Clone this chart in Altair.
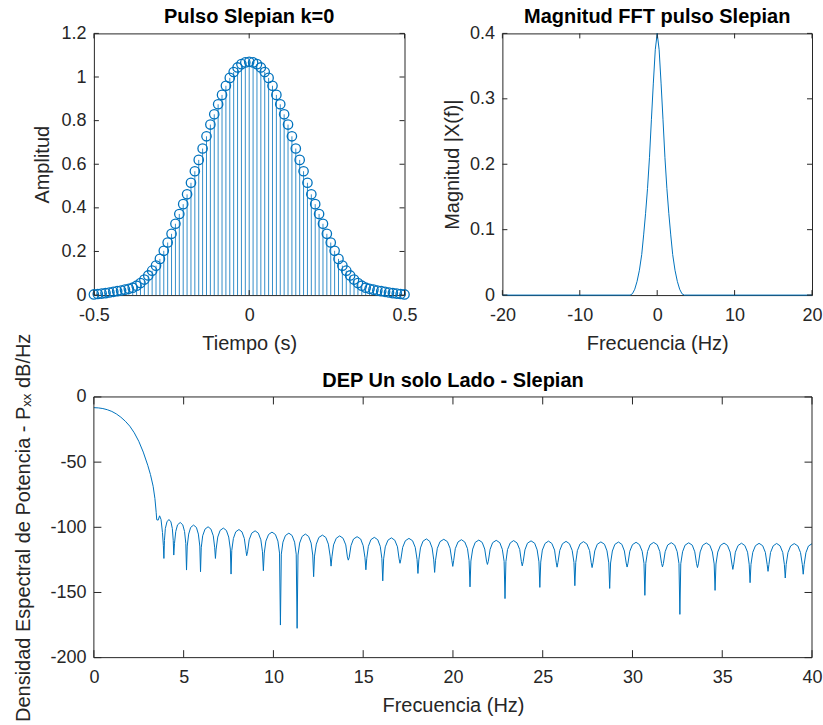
import altair as alt
import pandas as pd

# ----------------------------- data -----------------------------
pulse_t = [
    -0.5, -0.4875, -0.475, -0.4625, -0.45, -0.4375, -0.425, -0.4125, -0.4, -0.3875,
    -0.375, -0.3625, -0.35, -0.3375, -0.325, -0.3125, -0.3, -0.2875, -0.275, -0.2625,
    -0.25, -0.2375, -0.225, -0.2125, -0.2, -0.1875, -0.175, -0.1625, -0.15, -0.1375,
    -0.125, -0.1125, -0.1, -0.0875, -0.075, -0.0625, -0.05, -0.0375, -0.025, -0.0125,
    0,
    0.0125, 0.025, 0.0375, 0.05, 0.0625, 0.075, 0.0875, 0.1, 0.1125, 0.125,
    0.1375, 0.15, 0.1625, 0.175, 0.1875, 0.2, 0.2125, 0.225, 0.2375, 0.25,
    0.2625, 0.275, 0.2875, 0.3, 0.3125, 0.325, 0.3375, 0.35, 0.3625, 0.375,
    0.3875, 0.4, 0.4125, 0.425, 0.4375, 0.45, 0.4625, 0.475, 0.4875, 0.5,
]
pulse_amp = [
    0.003, 0.005, 0.007, 0.009, 0.012, 0.015, 0.018, 0.021, 0.025, 0.029,
    0.034, 0.043, 0.055, 0.071, 0.090, 0.112, 0.135, 0.166, 0.203, 0.241,
    0.281, 0.327, 0.372, 0.417, 0.462, 0.515, 0.568, 0.620, 0.672, 0.728,
    0.782, 0.829, 0.875, 0.918, 0.960, 0.996, 1.023, 1.044, 1.059, 1.067,
    1.070,
    1.067, 1.059, 1.044, 1.023, 0.996, 0.960, 0.918, 0.875, 0.829, 0.782,
    0.728, 0.672, 0.620, 0.568, 0.515, 0.462, 0.417, 0.372, 0.327, 0.281,
    0.241, 0.203, 0.166, 0.135, 0.112, 0.090, 0.071, 0.055, 0.043, 0.034,
    0.029, 0.025, 0.021, 0.018, 0.015, 0.012, 0.009, 0.007, 0.005, 0.003,
]

fft_freq = [-20, -3.5, -3.2, -2.9, -2.6, -2.3, -2.0, -1.75, -1.5, -1.25, -1.0, -0.75,
            -0.5, -0.25, 0, 0.25, 0.5, 0.75, 1.0, 1.25, 1.5, 1.75, 2.0, 2.3, 2.6,
            2.9, 3.2, 3.5, 20]
fft_mag = [0, 0, 0.002, 0.009, 0.021, 0.038, 0.062, 0.092, 0.125, 0.163, 0.210, 0.268,
           0.324, 0.375, 0.400, 0.375, 0.324, 0.268, 0.210, 0.163, 0.125, 0.092, 0.062,
           0.038, 0.021, 0.009, 0.002, 0, 0]

psd_freq = [
    0, 0.25, 0.5, 0.75, 1.0, 1.25, 1.5, 1.75, 2.0, 2.25, 2.5, 2.75, 3.0, 3.15, 3.3,
    3.4, 3.47, 3.5, 3.58, 3.66, 3.74, 3.82, 3.87,
    3.90, 3.93, 3.98, 4.07, 4.18, 4.29, 4.37, 4.42,
    4.45, 4.49, 4.56, 4.66, 4.81, 4.95, 5.05, 5.12,
    5.16, 5.20, 5.28, 5.39, 5.55, 5.71, 5.82, 5.90,
    5.94, 5.98, 6.06, 6.19, 6.36, 6.52, 6.65, 6.73,
    6.77, 6.81, 6.90, 7.03, 7.21, 7.38, 7.51, 7.60,
    7.64, 7.68, 7.77, 7.90, 8.08, 8.25, 8.38, 8.47,
    8.51, 8.56, 8.65, 8.79, 8.98, 9.16, 9.30, 9.39,
    9.44, 9.49, 9.58, 9.73, 9.92, 10.11, 10.25, 10.34,
    10.39, 10.44, 10.53, 10.67, 10.86, 11.04, 11.18, 11.27,
    11.32, 11.37, 11.46, 11.60, 11.78, 11.96, 12.10, 12.19,
    12.24, 12.29, 12.39, 12.53, 12.73, 12.92, 13.06, 13.16,
    13.21, 13.26, 13.35, 13.50, 13.69, 13.88, 14.03, 14.12,
    14.17, 14.22, 14.32, 14.46, 14.66, 14.86, 15.00, 15.10,
    15.15, 15.20, 15.29, 15.43, 15.62, 15.81, 15.95, 16.04,
    16.09, 16.14, 16.23, 16.38, 16.57, 16.76, 16.91, 17.00,
    17.05, 17.10, 17.20, 17.35, 17.55, 17.75, 17.90, 18.00,
    18.05, 18.10, 18.19, 18.33, 18.52, 18.70, 18.84, 18.93,
    18.98, 19.03, 19.13, 19.28, 19.49, 19.69, 19.84, 19.94,
    19.99, 20.04, 20.13, 20.28, 20.47, 20.66, 20.81, 20.90,
    20.95, 21.00, 21.10, 21.24, 21.44, 21.63, 21.77, 21.87,
    21.92, 21.97, 22.07, 22.21, 22.41, 22.61, 22.75, 22.85,
    22.90, 22.95, 23.04, 23.19, 23.38, 23.57, 23.72, 23.81,
    23.86, 23.91, 24.01, 24.15, 24.35, 24.55, 24.69, 24.79,
    24.84, 24.89, 24.98, 25.13, 25.32, 25.51, 25.66, 25.75,
    25.80, 25.85, 25.95, 26.10, 26.30, 26.49, 26.64, 26.74,
    26.79, 26.84, 26.93, 27.08, 27.27, 27.46, 27.61, 27.70,
    27.75, 27.80, 27.90, 28.04, 28.24, 28.44, 28.58, 28.68,
    28.73, 28.78, 28.88, 29.02, 29.22, 29.41, 29.55, 29.65,
    29.70, 29.75, 29.85, 30.00, 30.20, 30.39, 30.54, 30.64,
    30.69, 30.74, 30.84, 30.98, 31.18, 31.38, 31.52, 31.62,
    31.67, 31.72, 31.82, 31.96, 32.16, 32.35, 32.49, 32.59,
    32.64, 32.69, 32.79, 32.93, 33.13, 33.33, 33.47, 33.57,
    33.62, 33.67, 33.77, 33.91, 34.11, 34.31, 34.45, 34.55,
    34.60, 34.65, 34.75, 34.90, 35.10, 35.29, 35.44, 35.54,
    35.59, 35.64, 35.73, 35.88, 36.07, 36.26, 36.41, 36.50,
    36.55, 36.60, 36.70, 36.85, 37.05, 37.25, 37.40, 37.50,
    37.55, 37.60, 37.69, 37.84, 38.03, 38.22, 38.37, 38.46,
    38.51, 38.56, 38.66, 38.81, 39.01, 39.21, 39.36, 39.46,
    39.51, 39.56, 39.66, 39.80, 40.00,
]
psd_db = [
    -8.2, -8.4, -8.9, -9.8, -11.1, -13.0, -15.5, -18.6, -22.4, -27.5, -34.0, -42.3, -52.4, -59.5, -68.5,
    -78.0, -88.5, -94.2, -94.5, -91.2, -94.0, -104.0, -114.0,
    -123.9, -110.1, -100.9, -95.8, -94.0, -95.8, -100.9, -110.1,
    -121.3, -112.4, -103.2, -98.1, -96.3, -98.1, -103.2, -112.4,
    -132.8, -114.4, -105.2, -100.1, -98.3, -100.1, -105.2, -114.4,
    -134.1, -115.7, -106.5, -101.4, -99.6, -101.4, -106.5, -115.7,
    -123.9, -116.7, -107.5, -102.4, -100.6, -102.4, -107.5, -116.7,
    -135.9, -117.8, -108.6, -103.5, -101.7, -103.5, -108.6, -117.8,
    -121.8, -118.8, -109.6, -104.5, -102.7, -104.5, -109.6, -118.8,
    -133.3, -119.8, -110.6, -105.5, -103.7, -105.5, -110.6, -119.8,
    -175.0, -120.6, -111.4, -106.3, -104.5, -106.3, -111.4, -120.6,
    -177.5, -121.3, -112.1, -107.0, -105.2, -107.0, -112.1, -121.3,
    -137.9, -122.1, -112.9, -107.8, -106.0, -107.8, -112.9, -122.1,
    -129.8, -122.7, -113.5, -108.4, -106.6, -108.4, -113.5, -122.7,
    -125.2, -123.3, -114.1, -109.0, -107.2, -109.0, -114.1, -123.3,
    -132.6, -123.8, -114.6, -109.5, -107.7, -109.5, -114.6, -123.8,
    -141.1, -124.2, -115.0, -109.9, -108.1, -109.9, -115.0, -124.2,
    -127.6, -124.6, -115.4, -110.3, -108.5, -110.3, -115.4, -124.6,
    -135.4, -125.0, -115.8, -110.7, -108.9, -110.7, -115.8, -125.0,
    -134.6, -125.3, -116.1, -111.0, -109.2, -111.0, -116.1, -125.3,
    -130.0, -125.6, -116.4, -111.3, -109.5, -111.3, -116.4, -125.6,
    -145.7, -125.9, -116.7, -111.6, -109.8, -111.6, -116.7, -125.9,
    -128.5, -126.1, -116.9, -111.8, -110.0, -111.8, -116.9, -126.1,
    -154.7, -126.3, -117.1, -112.0, -110.2, -112.0, -117.1, -126.3,
    -129.6, -126.5, -117.3, -112.2, -110.4, -112.2, -117.3, -126.5,
    -146.1, -126.7, -117.5, -112.4, -110.6, -112.4, -117.5, -126.7,
    -130.6, -126.9, -117.7, -112.6, -110.8, -112.6, -117.7, -126.9,
    -144.8, -127.1, -117.9, -112.8, -111.0, -112.8, -117.9, -127.1,
    -130.9, -127.3, -118.1, -113.0, -111.2, -113.0, -118.1, -127.3,
    -146.9, -127.4, -118.2, -113.1, -111.3, -113.1, -118.2, -127.4,
    -130.5, -127.6, -118.4, -113.3, -111.5, -113.3, -118.4, -127.6,
    -152.2, -127.7, -118.5, -113.4, -111.6, -113.4, -118.5, -127.7,
    -130.4, -127.9, -118.7, -113.6, -111.8, -113.6, -118.7, -127.9,
    -166.8, -128.0, -118.8, -113.7, -111.9, -113.7, -118.8, -128.0,
    -130.9, -128.1, -118.9, -113.8, -112.0, -113.8, -118.9, -128.1,
    -148.4, -128.2, -119.0, -113.9, -112.1, -113.9, -119.0, -128.2,
    -132.3, -128.3, -119.1, -114.0, -112.2, -114.0, -119.1, -128.3,
    -142.5, -128.4, -119.2, -114.1, -112.3, -114.1, -119.2, -128.4,
    -133.8, -128.5, -119.3, -114.2, -112.4, -114.2, -119.3, -128.5,
    -138.9, -128.6, -119.4, -114.3, -112.5, -114.3, -119.4, -128.6,
    -136.0, -128.7, -119.5, -114.4, -112.6,
]
assert len(psd_freq) == len(psd_db)
assert len(pulse_t) == len(pulse_amp)
assert len(fft_freq) == len(fft_mag)

tl_xticks = [-0.5, 0, 0.5]
tl_yticks = [0, 0.2, 0.4, 0.6, 0.8, 1, 1.2]
tr_xticks = [-20, -10, 0, 10, 20]
tr_yticks = [0, 0.1, 0.2, 0.3, 0.4]
b_xticks = [0, 5, 10, 15, 20, 25, 30, 35, 40]
b_yticks = [-200, -150, -100, -50, 0]

tl_title = "Pulso Slepian k=0"
tr_title = "Magnitud FFT pulso Slepian"
b_title = "DEP Un solo Lado - Slepian"
tl_xlabel, tl_ylabel = "Tiempo (s)", "Amplitud"
tr_xlabel, tr_ylabel = "Frecuencia (Hz)", "Magnitud |X(f)|"
b_xlabel, b_ylabel = "Frecuencia (Hz)", "Densidad Espectral de Potencia - P\u2093\u2093 dB/Hz"

# ---------------------------- styles ----------------------------
FONT = "Liberation Sans"
BLUE = "#0072BD"
AXC = "#262626"

W1, H1 = 311, 262
W2, H2 = 310, 262
W3, H3 = 719, 261     # drawn size of the bottom panel
W3_SLOT = 311         # layout slot width of the bottom panel (it overflows to the right)


def x_axis(values, title, width):
    return alt.Axis(values=values, title=title, grid=False, domain=False, ticks=False, tickSize=0,
                    labelExpr="'' + datum.value", labelFlush=False, labelOverlap=False,
                    labelFontSize=18, labelColor=AXC, labelPadding=11, labelFont=FONT,
                    titleFontSize=20, titleFontWeight="normal", titleColor=AXC, titleFont=FONT,
                    titleBaseline="alphabetic", titleX=width / 2, titleY=54)


def y_axis(values, title, height, tx):
    return alt.Axis(values=values, title=title, grid=False, domain=False, ticks=False, tickSize=0,
                    labelExpr="'' + datum.value", labelOverlap=False,
                    labelFontSize=18, labelColor=AXC, labelPadding=8, labelFont=FONT,
                    titleFontSize=20, titleFontWeight="normal", titleColor=AXC, titleFont=FONT,
                    titleBaseline="alphabetic", titleX=tx, titleY=height / 2)


def inner_ticks(xvals, yvals, xs, ys, xa, ya, w, h, L):
    xd = pd.DataFrame({"tv": xvals})
    yd = pd.DataFrame({"tv": yvals})
    bx = alt.Chart(xd).mark_rule(color=AXC, strokeWidth=1)
    by = alt.Chart(yd).mark_rule(color=AXC, strokeWidth=1)
    return [
        bx.encode(x=alt.X("tv:Q", scale=xs, axis=xa), y=alt.value(h), y2=alt.value(h - L)),
        bx.encode(x=alt.X("tv:Q", scale=xs, axis=xa), y=alt.value(0), y2=alt.value(L)),
        by.encode(y=alt.Y("tv:Q", scale=ys, axis=ya), x=alt.value(0), x2=alt.value(L)),
        by.encode(y=alt.Y("tv:Q", scale=ys, axis=ya), x=alt.value(w), x2=alt.value(w - L)),
    ]


def box(w, h):
    one = pd.DataFrame({"k": [0]})
    r = alt.Chart(one).mark_rule(color=AXC, strokeWidth=1)
    return [
        r.encode(x=alt.value(0), x2=alt.value(w), y=alt.value(0), y2=alt.value(0)),
        r.encode(x=alt.value(0), x2=alt.value(w), y=alt.value(h), y2=alt.value(h)),
        r.encode(x=alt.value(0), x2=alt.value(0), y=alt.value(0), y2=alt.value(h)),
        r.encode(x=alt.value(w), x2=alt.value(w), y=alt.value(0), y2=alt.value(h)),
    ]


def layout_guide(x, y1, y2):
    # invisible rule fixing the outer extent used by the automatic padding
    return alt.Chart(pd.DataFrame({"k": [0]})).mark_rule(color="white", strokeWidth=0.5, opacity=0).encode(
        x=alt.value(x), x2=alt.value(x), y=alt.value(y1), y2=alt.value(y2))


def title_text(text, w):
    return alt.Chart(pd.DataFrame({"txt": [text]})).mark_text(
        font=FONT, fontSize=20, fontWeight="bold", color="black", align="center", baseline="alphabetic"
    ).encode(x=alt.value(w / 2), y=alt.value(-10), text="txt:N")


# --------------------------- top-left ---------------------------
pulse_df = pd.DataFrame({"t": pulse_t, "a": pulse_amp})
xs1 = alt.Scale(domain=[-0.5, 0.5], nice=False, zero=False)
ys1 = alt.Scale(domain=[0, 1.2], nice=False, zero=False)
xa1 = x_axis(tl_xticks, tl_xlabel, W1)
ya1 = y_axis(tl_yticks, tl_ylabel, H1, -45.5)
stems = alt.Chart(pulse_df).mark_rule(color=BLUE, strokeWidth=0.8).encode(
    x=alt.X("t:Q", scale=xs1, axis=xa1),
    y=alt.Y("a:Q", scale=ys1, axis=ya1),
    y2=alt.datum(0),
)
circles = alt.Chart(pulse_df).mark_point(shape="circle", filled=False, size=88, strokeWidth=1.3,
                                         color=BLUE, opacity=1).encode(
    x=alt.X("t:Q", scale=xs1, axis=xa1),
    y=alt.Y("a:Q", scale=ys1, axis=ya1),
)
tl = alt.layer(stems, circles, *inner_ticks(tl_xticks, tl_yticks, xs1, ys1, xa1, ya1, W1, H1, 5),
               title_text(tl_title, W1), layout_guide(-90, -31, 0)).properties(width=W1, height=H1)

# --------------------------- top-right --------------------------
fft_df = pd.DataFrame({"f": fft_freq, "m": fft_mag})
xs2 = alt.Scale(domain=[-20, 20], nice=False, zero=False)
ys2 = alt.Scale(domain=[0, 0.4], nice=False, zero=False)
xa2 = x_axis(tr_xticks, tr_xlabel, W2)
ya2 = y_axis(tr_yticks, tr_ylabel, H2, -44)
fft_line = alt.Chart(fft_df).mark_line(color=BLUE, strokeWidth=1).encode(
    x=alt.X("f:Q", scale=xs2, axis=xa2),
    y=alt.Y("m:Q", scale=ys2, axis=ya2),
)
tr = alt.layer(fft_line, *inner_ticks(tr_xticks, tr_yticks, xs2, ys2, xa2, ya2, W2, H2, 5),
               title_text(tr_title, W2)).properties(width=W2, height=H2)

# ---------------------------- bottom ----------------------------
psd_df = pd.DataFrame({"f": psd_freq, "p": psd_db})
xs3 = alt.Scale(domain=[0, 40], nice=False, zero=False, range=[0, W3])
ys3 = alt.Scale(domain=[-200, 0], nice=False, zero=False)
xa3 = x_axis(b_xticks, b_xlabel, W3)
ya3 = y_axis(b_yticks, b_ylabel, H3, -64)
psd_line = alt.Chart(psd_df).mark_line(color=BLUE, strokeWidth=1).encode(
    x=alt.X("f:Q", scale=xs3, axis=xa3),
    y=alt.Y("p:Q", scale=ys3, axis=ya3),
)
bottom = alt.layer(psd_line, *inner_ticks(b_xticks, b_yticks, xs3, ys3, xa3, ya3, W3, H3, 7.5),
                   *box(W3, H3), title_text(b_title, W3), layout_guide(-90, 0, H3)).properties(
    width=W3_SLOT, height=H3, view=alt.ViewBackground(strokeOpacity=0))

chart = alt.concat(
    tl, tr, bottom, columns=2, bounds="flush",
    spacing={"row": 102, "column": 98},
).properties(
    padding={"left": 3, "top": 1, "right": 0, "bottom": 0},
    background="white",
).configure(font=FONT).configure_view(stroke=AXC, strokeWidth=1)

chart.save("out.html", embed_options={"renderer": "svg", "actions": False})
